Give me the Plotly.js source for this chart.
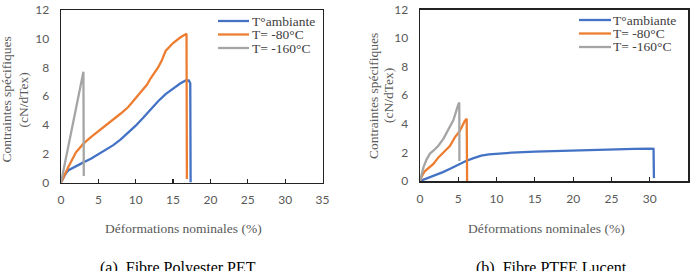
<!DOCTYPE html>
<html>
<head>
<meta charset="utf-8">
<script src="https://cdn.plot.ly/plotly-3.0.1.min.js"></script>
<style>
  html, body { margin: 0; padding: 0; background: #fff; }
  #chart { width: 692px; height: 271px; }
</style>
</head>
<body>
<div id="chart"></div>
<script>
// Series names shared by both panels
const seriesNames = ['T°ambiante', 'T= -80°C', 'T= -160°C'];
const seriesColors = ['#4472C4', '#ED7D31', '#A5A5A5'];

// (a) Polyester PET — strain (%) vs specific stress (cN/dTex)
const petAmbX = [0, 0.3, 0.6, 1, 1.5, 2, 3, 4, 5, 6, 7, 8, 9, 10, 11, 12, 13, 14, 15, 16, 16.7, 17.1, 17.3, 17.35];
const petAmbY = [0, 0.35, 0.6, 0.85, 1.0, 1.15, 1.4, 1.65, 1.95, 2.25, 2.6, 3.0, 3.45, 3.95, 4.5, 5.1, 5.65, 6.15, 6.55, 6.9, 7.1, 7.1, 6.9, 0];
const pet80X = [0, 0.5, 1, 2, 3, 4, 5, 6, 7, 8, 9, 10, 11, 11.5, 12, 13, 13.5, 14, 15, 16, 16.8, 16.85];
const pet80Y = [0, 0.6, 1.1, 2.1, 2.7, 3.15, 3.55, 3.95, 4.35, 4.8, 5.25, 5.85, 6.45, 6.8, 7.25, 8.0, 8.5, 9.15, 9.7, 10.1, 10.35, 0.25];
const pet160X = [0, 0.5, 1, 1.5, 2, 2.5, 3.0, 3.05];
const pet160Y = [0, 1.3, 2.6, 3.9, 5.2, 6.45, 7.7, 0.45];

// (b) PTFE Lucent
const ptfeAmbX = [0, 1, 2, 3, 4, 5, 6, 7, 8, 9, 10, 12, 15, 18, 20, 22, 25, 28, 30, 30.5, 30.55];
const ptfeAmbY = [0, 0.2, 0.4, 0.62, 0.87, 1.15, 1.4, 1.6, 1.78, 1.87, 1.92, 1.98, 2.05, 2.1, 2.15, 2.18, 2.22, 2.25, 2.26, 2.25, 0.2];
const ptfe80X = [0, 0.3, 0.65, 1.1, 1.75, 2.4, 2.85, 3.25, 3.9, 4.55, 5.2, 5.85, 6.1, 6.15];
const ptfe80Y = [0, 0.4, 0.7, 0.9, 1.2, 1.65, 1.93, 2.1, 2.45, 3.05, 3.5, 4.2, 4.35, 0];
const ptfe160X = [0, 0.2, 0.45, 0.85, 1.3, 1.75, 2.4, 3.05, 3.7, 4.35, 5.0, 5.13, 5.15];
const ptfe160Y = [0, 0.45, 0.95, 1.5, 1.92, 2.12, 2.47, 2.95, 3.55, 4.25, 5.35, 5.5, 1.4];

// Axis ticks
const xTicks = [0, 5, 10, 15, 20, 25, 30, 35];
const yTicks = [0, 2, 4, 6, 8, 10, 12];

// Panel captions and axis titles
const captions = ['(a)  Fibre Polyester PET', '(b)  Fibre PTFE Lucent'];
const xTitle = 'Déformations nominales (%)';
const yTitleLines = ['Contraintes spécifiques', '(cN/dTex)'];

const W = 692, H = 271;
const px = x => x / W;
const py = y => 1 - y / H;

const tickFont = { family: 'Lato, "Open Sans", sans-serif', size: 12, color: '#595959' };
const serif = '"Liberation Serif", "Times New Roman", serif';

function trace(x, y, i, axis) {
  return {
    x: x, y: y, name: seriesNames[i], type: 'scatter', mode: 'lines',
    line: { color: seriesColors[i], width: 2.3 },
    xaxis: 'x' + axis, yaxis: 'y' + axis, showlegend: false, hoverinfo: 'skip'
  };
}

const data = [
  trace(petAmbX, petAmbY, 0, ''),
  trace(pet80X, pet80Y, 1, ''),
  trace(pet160X, pet160Y, 2, ''),
  trace(ptfeAmbX, ptfeAmbY, 0, '2'),
  trace(ptfe80X, ptfe80Y, 1, '2'),
  trace(ptfe160X, ptfe160Y, 2, '2')
];

function xAxis(domain, anchor) {
  return {
    domain: domain, anchor: anchor, range: [0, 35],
    tickvals: xTicks, ticks: 'inside', ticklen: 4, tickwidth: 1.2, tickcolor: '#222',
    showline: true, linecolor: '#222', linewidth: 1.5, mirror: true,
    showgrid: false, zeroline: false, tickfont: tickFont, ticklabelstandoff: 6,
    fixedrange: true
  };
}
function yAxis(domain, anchor) {
  return {
    domain: domain, anchor: anchor, range: [0, 12],
    tickvals: yTicks, ticks: '',
    showline: true, linecolor: '#222', linewidth: 1.5, mirror: true,
    showgrid: false, zeroline: false, tickfont: tickFont, ticklabelstandoff: 8,
    fixedrange: true
  };
}

// Panel geometry in pixels: [left, right, top, bottom]
const panels = [
  { l: 61, r: 322.5, t: 10, b: 182.5, xt: 184, yt1: 5.5, yt2: 22.5, ytc: 100, cap: 178,
    legLine: [218, 249], legText: 250, legY: [21, 34.5, 48] },
  { l: 420, r: 688, t: 9.5, b: 181, xt: 546, yt1: 373, yt2: 388, ytc: 96, cap: 551,
    legLine: [579, 611], legText: 611, legY: [20, 33.5, 47] }
];

const annotations = [];
const shapes = [];
panels.forEach((p, k) => {
  annotations.push({ xref: 'paper', yref: 'paper', x: px(p.xt), y: py(228), text: xTitle,
    showarrow: false, xanchor: 'center', yanchor: 'middle',
    font: { family: serif, size: 13.5, color: '#595959' } });
  annotations.push({ xref: 'paper', yref: 'paper', x: px(p.yt1), y: py(p.ytc), text: yTitleLines[0],
    showarrow: false, textangle: -90, xanchor: 'center', yanchor: 'middle',
    font: { family: serif, size: 13.5, color: '#595959' } });
  annotations.push({ xref: 'paper', yref: 'paper', x: px(p.yt2), y: py(p.ytc), text: yTitleLines[1],
    showarrow: false, textangle: -90, xanchor: 'center', yanchor: 'middle',
    font: { family: serif, size: 13.5, color: '#595959' } });
  annotations.push({ xref: 'paper', yref: 'paper', x: px(p.cap), y: py(257), text: captions[k],
    showarrow: false, xanchor: 'center', yanchor: 'top',
    font: { family: serif, size: 16, color: '#000' } });
  // legend rows: line sample + label
  seriesNames.forEach((name, i) => {
    shapes.push({ type: 'line', xref: 'paper', yref: 'paper',
      x0: px(p.legLine[0]), x1: px(p.legLine[1]), y0: py(p.legY[i]), y1: py(p.legY[i]),
      line: { color: seriesColors[i], width: 2.3 } });
    annotations.push({ xref: 'paper', yref: 'paper', x: px(p.legText), y: py(p.legY[i]), text: name,
      showarrow: false, xanchor: 'left', yanchor: 'middle',
      font: { family: serif, size: 13.5, color: '#404040' } });
  });
});

const layout = {
  width: W, height: H,
  margin: { l: 0, r: 0, t: 0, b: 0 },
  paper_bgcolor: '#fff', plot_bgcolor: '#fff',
  showlegend: false,
  xaxis: xAxis([px(panels[0].l), px(panels[0].r)], 'y'),
  yaxis: yAxis([py(panels[0].b), py(panels[0].t)], 'x'),
  xaxis2: xAxis([px(panels[1].l), px(panels[1].r)], 'y2'),
  yaxis2: yAxis([py(panels[1].b), py(panels[1].t)], 'x2'),
  annotations: annotations,
  shapes: shapes
};

Plotly.newPlot('chart', data, layout, { staticPlot: true, displayModeBar: false });
</script>
</body>
</html>
